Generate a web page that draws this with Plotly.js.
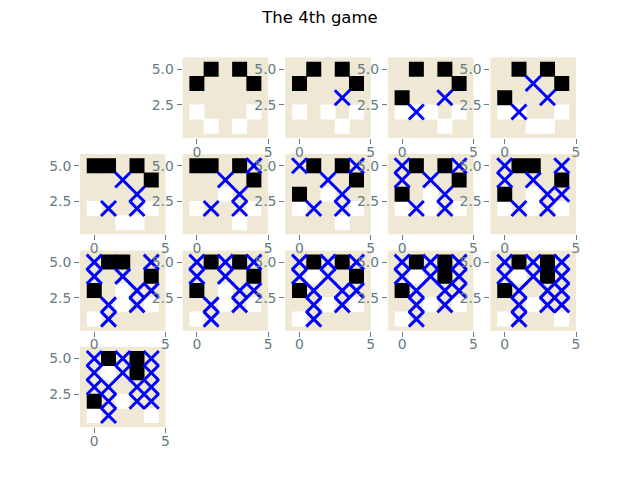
<!DOCTYPE html>
<html><head><meta charset="utf-8">
<script src="https://cdn.plot.ly/plotly-3.0.1.min.js"></script>
<style>html,body{margin:0;padding:0;background:#fff}</style>
</head><body><div id="chart" style="width:640px;height:480px"></div>
<script>
// Board states of "The 4th game", one entry per panel: [column, row] cells
const blackCells = [
  [[1,5],[0,4],[3,5],[4,4]],
  [[1,5],[0,4],[3,5],[4,4]],
  [[1,5],[3,5],[4,4],[0,3]],
  [[1,5],[3,5],[4,4],[0,3]],
  [[0,5],[1,5],[3,5],[4,4]],
  [[0,5],[1,5],[3,5],[4,4]],
  [[1,5],[3,5],[4,4],[0,3]],
  [[1,5],[3,5],[4,4],[0,3]],
  [[1,5],[2,5],[4,4],[0,3]],
  [[1,5],[2,5],[4,4],[0,3]],
  [[1,5],[3,5],[4,4],[0,3]],
  [[1,5],[3,5],[4,4],[0,3]],
  [[1,5],[3,5],[3,4],[0,3]],
  [[1,5],[3,5],[3,4],[0,3]],
  [[1,5],[3,5],[3,4],[0,2]]
];
const whiteCells = [
  [[0,2],[1,1],[3,1],[4,2]],
  [[0,2],[2,2],[3,1],[4,2]],
  [[0,2],[1,2],[2,2],[4,2],[3,1]],
  [[0,2],[1,2],[4,2],[2,1],[3,1]],
  [[0,2],[4,2],[2,1],[3,1]],
  [[2,3],[0,2],[3,1],[4,2]],
  [[0,2],[2,3],[3,1],[4,2]],
  [[2,3],[2,2],[0,2],[4,2]],
  [[2,3],[2,2],[0,2],[4,2]],
  [[2,3],[2,2],[0,1],[4,2]],
  [[2,3],[2,2],[0,1],[4,2]],
  [[1,4],[2,2],[0,1],[4,2]],
  [[1,4],[2,2],[0,1],[4,2]],
  [[1,4],[2,2],[0,1],[4,1]],
  [[1,4],[2,2],[0,1],[4,1]]
];
const crossCells = [
  [],
  [[3,3]],
  [[3,3],[1,2]],
  [[3,3],[1,2],[2,4]],
  [[2,4],[3,3],[3,2],[1,2]],
  [[4,5],[2,4],[3,3],[3,2],[1,2]],
  [[0,5],[4,5],[2,4],[3,3],[3,2],[1,2]],
  [[0,5],[0,4],[4,5],[2,4],[3,3],[3,2],[1,2]],
  [[0,5],[0,4],[4,5],[2,4],[3,3],[4,3],[3,2],[1,2]],
  [[0,5],[0,4],[4,5],[2,4],[3,3],[4,3],[3,2],[1,2],[1,1]],
  [[0,5],[0,4],[2,5],[4,5],[2,4],[3,3],[4,3],[3,2],[1,2],[1,1]],
  [[0,5],[0,4],[2,5],[4,5],[2,4],[1,3],[3,3],[4,3],[1,2],[3,2],[1,1]],
  [[0,5],[0,4],[2,5],[4,5],[2,4],[4,4],[1,3],[3,3],[4,3],[1,2],[3,2],[1,1]],
  [[0,5],[0,4],[2,5],[4,5],[2,4],[4,4],[1,3],[3,3],[4,3],[1,2],[3,2],[4,2],[1,1]],
  [[0,5],[0,4],[0,3],[2,5],[4,5],[2,4],[4,4],[1,3],[3,3],[4,3],[1,2],[3,2],[4,2],[1,1]]
];
const xTickVals = [0, 5];
const xTickText = ['0', '5'];
const yTickVals = [2.5, 5.0];
const yTickText = ['2.5', '5.0'];
const titleText = 'The 4th game';

(function () {
  // layout geometry (matplotlib-like 4x5 grid, first slot empty)
  const nRows = 4, nCols = 5;
  const gLeft = 0.125, gRight = 0.9, gBottom = 0.11, gTop = 0.88, wsp = 0.2, hsp = 0.2;
  const cellW = (gRight - gLeft) / (nCols + (nCols - 1) * wsp);
  const cellH = (gTop - gBottom) / (nRows + (nRows - 1) * hsp);
  const W = 640, H = 480;
  const xRange = [-1, 5];
  const pxPerUnit = cellW * W / (xRange[1] - xRange[0]);
  const ySpan = cellH * H / pxPerUnit;
  const yRange = [3 - ySpan / 2, 3 + ySpan / 2];

  const tickColor = '#657b83';
  const traces = [];
  const shapes = [];
  const layout = {
    width: W, height: H,
    margin: {l: 0, r: 0, t: 0, b: 0},
    paper_bgcolor: '#ffffff',
    plot_bgcolor: 'rgba(0,0,0,0)',
    showlegend: false,
    title: {text: titleText, x: 0.5, xanchor: 'center', y: 1 - 17 / H, yanchor: 'middle', yref: 'container',
            font: {family: 'DejaVu Sans', size: 16.5, color: '#000000'}}
  };

  blackCells.forEach((_, p) => {
    const pos = p + 1;
    const r = Math.floor(pos / nCols), c = pos % nCols;
    const x0 = gLeft + c * cellW * (1 + wsp);
    const yTop = gTop - r * cellH * (1 + hsp);
    const k = p === 0 ? '' : String(p + 1);
    const xa = 'x' + k, ya = 'y' + k;
    const axCommon = {
      showgrid: false, zeroline: false, showline: false,
      ticks: 'outside', ticklen: 5, tickwidth: 1, tickcolor: tickColor,
      tickfont: {family: 'DejaVu Sans', size: 13.9, color: tickColor},
      fixedrange: true
    };
    layout['xaxis' + k] = Object.assign({}, axCommon, {
      domain: [x0, x0 + cellW], range: xRange, anchor: ya,
      tickmode: 'array', tickvals: xTickVals, ticktext: xTickText,
      ticklabelstandoff: -4
    });
    layout['yaxis' + k] = Object.assign({}, axCommon, {
      domain: [yTop - cellH, yTop], range: yRange, anchor: xa,
      tickmode: 'array', tickvals: yTickVals, ticktext: yTickText
    });
    shapes.push({type: 'rect', xref: xa + ' domain', yref: ya + ' domain', x0: 0, x1: 1, y0: 0, y1: 1,
                 fillcolor: '#eee8d5', line: {width: 0}, layer: 'below'});
    traces.push({
      type: 'scatter', mode: 'markers', xaxis: xa, yaxis: ya, cliponaxis: true,
      x: whiteCells[p].map(d => d[0]), y: whiteCells[p].map(d => d[1]),
      marker: {symbol: 'square', size: 15, color: '#ffffff', line: {width: 0}}
    });
    traces.push({
      type: 'scatter', mode: 'markers', xaxis: xa, yaxis: ya, cliponaxis: true,
      x: blackCells[p].map(d => d[0]), y: blackCells[p].map(d => d[1]),
      marker: {symbol: 'square', size: 15, color: '#000000', line: {width: 0}}
    });
    traces.push({
      type: 'scatter', mode: 'markers', xaxis: xa, yaxis: ya, cliponaxis: true,
      x: crossCells[p].map(d => d[0]), y: crossCells[p].map(d => d[1]),
      marker: {symbol: 'x-thin-open', size: 15, color: '#0000ff', line: {width: 3, color: '#0000ff'}}
    });
  });
  layout.shapes = shapes;

  Plotly.newPlot('chart', traces, layout, {staticPlot: true, displayModeBar: false});
})();
</script>
</body></html>
